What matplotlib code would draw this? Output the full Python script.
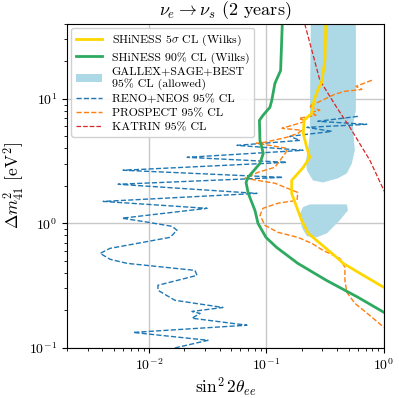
import numpy as np
import matplotlib
matplotlib.use('Agg')
import matplotlib.pyplot as plt

plt.rcParams['font.family'] = 'serif'
plt.rcParams['font.serif'] = ['cmr10']
plt.rcParams['mathtext.fontset'] = 'cm'
plt.rcParams['axes.unicode_minus'] = False
plt.rcParams['axes.formatter.use_mathtext'] = True

# SHiNESS 90% CL (Wilks)
shiness90_x = [0.137, 0.132, 0.118, 0.111, 0.107, 0.0934, 0.0871, 0.088, 0.094, 0.088,
               0.0696, 0.067, 0.070, 0.0798, 0.0847, 0.099, 0.122, 0.185, 0.325, 0.601, 1.0]
shiness90_y = [45.0, 16.9, 13.3, 9.72, 8.55, 7.37, 6.72, 4.64, 3.65, 3.03,
               2.34, 2.13, 1.74, 1.27, 1.0, 0.772, 0.641, 0.477, 0.348, 0.255, 0.193]

# SHiNESS 5 sigma CL (Wilks)
shiness5_x = [0.321, 0.315, 0.295, 0.273, 0.254, 0.243, 0.209, 0.206, 0.220, 0.234, 0.206,
              0.164, 0.164, 0.181, 0.199, 0.227, 0.267, 0.396, 0.451, 0.625, 1.0]
shiness5_y = [45.0, 20.4, 13.6, 11.7, 9.72, 7.65, 6.72, 5.28, 4.08, 3.39, 2.82,
              2.21, 1.74, 1.35, 1.06, 0.831, 0.730, 0.533, 0.477, 0.397, 0.306]

# GALLEX+SAGE+BEST allowed regions
gallex_up_x = [0.239, 0.578, 0.578, 0.545, 0.566, 0.534, 0.484, 0.406, 0.303,
               0.249, 0.221, 0.217, 0.225, 0.234]
gallex_up_y = [50.0, 50.0, 8.09, 6.12, 3.86, 3.03, 2.52, 2.30, 2.13,
               2.21, 2.67, 3.21, 3.86, 5.09]
gallex_lo_x = [0.205, 0.234, 0.484, 0.494, 0.422, 0.327, 0.269, 0.221, 0.200, 0.193]
gallex_lo_y = [1.35, 1.42, 1.42, 1.27, 1.06, 0.831, 0.772, 0.787, 0.929, 1.20]

# RENO+NEOS 95% CL
reno_x = [0.601, 0.274, 0.716, 0.221, 0.361, 0.158, 0.193, 0.0561, 0.205, 0.0211,
          0.149, 0.00601, 0.138, 0.00545, 0.0830, 0.00406, 0.0312, 0.00589, 0.00980, 0.0157,
          0.0173, 0.0151, 0.00889, 0.00466, 0.00383, 0.00466, 0.00650, 0.0246, 0.0256, 0.0119,
          0.0119, 0.0166, 0.0426, 0.0232, 0.0272, 0.0232, 0.0682, 0.00731, 0.0318, 0.0160]
reno_y = [7.23, 6.60, 6.24, 5.90, 5.48, 5.00, 4.64, 4.23, 3.86, 3.39,
          3.09, 2.67, 2.34, 2.06, 1.74, 1.50, 1.32, 1.10, 1.02, 0.946,
          0.879, 0.772, 0.704, 0.630, 0.574, 0.514, 0.477, 0.419, 0.382, 0.318,
          0.290, 0.241, 0.211, 0.196, 0.189, 0.173, 0.152, 0.133, 0.115, 0.099]

# PROSPECT 95% CL
prospect_x = [0.791, 0.578, 0.650, 0.466, 0.383, 0.274, 0.230, 0.285, 0.239, 0.264,
              0.189, 0.217, 0.1355, 0.200, 0.185, 0.149, 0.0971, 0.0814, 0.107, 0.149,
              0.1466, 0.118, 0.0847, 0.0656, 0.118, 0.185, 0.182, 0.125, 0.0933, 0.0881,
              0.0971, 0.125, 0.185, 0.244, 0.303, 0.422, 0.466, 0.466, 0.484, 0.566,
              0.760, 1.0]
prospect_y = [14.1, 12.6, 11.9, 11.5, 10.9, 9.37, 8.71, 8.09, 7.79, 7.37,
              6.97, 6.60, 5.80, 5.59, 5.28, 4.91, 4.48, 4.39, 4.23, 4.00,
              3.72, 2.82, 2.57, 2.30, 2.10, 1.77, 1.53, 1.45, 1.32, 1.16,
              0.964, 0.847, 0.772, 0.690, 0.607, 0.523, 0.443, 0.348, 0.279, 0.228,
              0.182, 0.146]

# KATRIN 95% CL
katrin_x = [0.205, 0.285, 0.396, 0.514, 0.760, 1.0, 1.2]
katrin_y = [45.0, 14.1, 8.55, 5.90, 3.21, 1.84, 1.4]

fig = plt.figure(figsize=(3.99, 3.98), dpi=100)
ax = fig.add_axes([0.168, 0.126, 0.794, 0.814])

ax.fill(gallex_up_x, gallex_up_y, color='lightblue', lw=0,
        label='GALLEX+SAGE+BEST\n95% CL (allowed)')
ax.fill(gallex_lo_x, gallex_lo_y, color='lightblue', lw=0)

ax.plot(reno_x, reno_y, '--', color='tab:blue', lw=1, label='RENO+NEOS 95% CL')
ax.plot(prospect_x, prospect_y, '--', color='tab:orange', lw=1, label='PROSPECT 95% CL')
ax.plot(katrin_x, katrin_y, '--', color='tab:red', lw=0.9, label='KATRIN 95% CL')
ax.plot(shiness90_x, shiness90_y, color='#2eaa60', lw=2, label='SHiNESS 90% CL (Wilks)')
ax.plot(shiness5_x, shiness5_y, color='gold', lw=2, label=r'SHiNESS $5\sigma$ CL (Wilks)')

ax.set_xscale('log')
ax.set_yscale('log')
ax.set_xlim(2e-3, 1)
ax.set_ylim(0.1, 40)
ax.grid(True, which='major', color='#c8c8c8', lw=1)
ax.set_axisbelow(True)

ax.set_title(r'$\nu_e \to \nu_s$ (2 years)', fontsize=13)
ax.set_xlabel(r'$\sin^2 2\theta_{ee}$', fontsize=12.5, labelpad=2)
ax.set_ylabel(r'$\Delta m^2_{41}$ [eV$^2$]', fontsize=12.5, labelpad=2)
ax.tick_params(labelsize=10)

handles, labels = ax.get_legend_handles_labels()
order = [5, 4, 0, 1, 2, 3]
ax.legend([handles[i] for i in order], [labels[i] for i in order],
          loc='upper left', fontsize=8.6, labelspacing=0.3, handlelength=2.2,
          borderaxespad=0.35, framealpha=0.9)

fig.savefig('out.png', dpi=100)
